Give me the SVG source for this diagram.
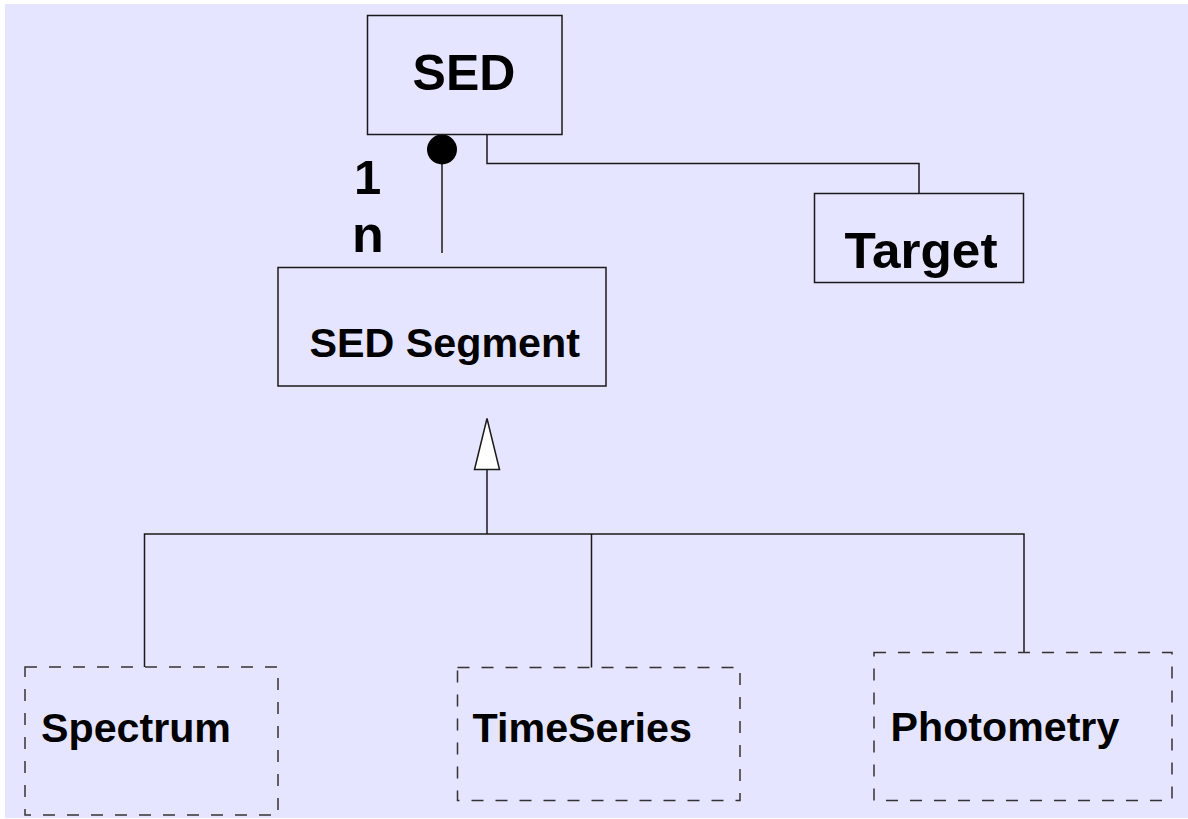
<svg xmlns="http://www.w3.org/2000/svg" width="1188" height="819" viewBox="0 0 1188 819">
  <style>
    .box { fill: none; stroke: #1a1a1a; stroke-width: 1.5; }
    .dashed { fill: none; stroke: #333333; stroke-width: 1.5; stroke-dasharray: 12 12; }
    .link { fill: none; stroke: #1a1a1a; stroke-width: 1.5; }
    .label { font-family: "Liberation Sans", Arial, sans-serif; font-weight: bold; fill: #000000; }
  </style>

  <!-- page background -->
  <rect x="0" y="0" width="1188" height="819" fill="#ffffff"/>
  <rect x="5" y="4" width="1183" height="814" fill="#e5e5ff"/>

  <!-- connectors -->
  <g id="connectors">
    <!-- SED to SED Segment: composition, 1 to n -->
    <line class="link" x1="442" y1="164" x2="442" y2="253"/>
    <circle cx="442" cy="149.5" r="15" fill="#000000"/>
    <!-- SED to Target -->
    <polyline class="link" points="487,134.5 487,163.5 919,163.5 919,193.5"/>
    <!-- generalisation tree -->
    <line class="link" x1="487" y1="469.5" x2="487" y2="534"/>
    <polygon points="487,418.5 474.5,469.5 499.5,469.5" fill="#ffffff" stroke="#1a1a1a" stroke-width="1.5"/>
    <polyline class="link" points="144.5,667 144.5,534 1024,534 1024,652.5"/>
    <line class="link" x1="591.5" y1="534" x2="591.5" y2="667.5"/>
    <!-- multiplicities -->
    <text class="label" x="354" y="194" font-size="49">1</text>
    <text class="label" x="352" y="252" font-size="52">n</text>
  </g>

  <g id="sed">
    <rect class="box" x="367.5" y="15.5" width="194.5" height="119"/>
    <text class="label" x="464" y="90" font-size="50" text-anchor="middle">SED</text>
  </g>

  <g id="target">
    <rect class="box" x="814.5" y="193.5" width="209" height="89"/>
    <text class="label" x="844.5" y="268.3" font-size="50" textLength="153" lengthAdjust="spacingAndGlyphs">Target</text>
  </g>

  <g id="sed-segment">
    <rect class="box" x="278" y="267.5" width="328" height="118.5"/>
    <text class="label" x="309.5" y="356.7" font-size="40.5" textLength="270.5" lengthAdjust="spacingAndGlyphs">SED Segment</text>
  </g>

  <g id="spectrum">
    <rect class="dashed" x="25" y="667" width="253" height="148"/>
    <text class="label" x="41" y="741.7" font-size="41" textLength="190" lengthAdjust="spacingAndGlyphs">Spectrum</text>
  </g>

  <g id="timeseries">
    <rect class="dashed" x="457.5" y="667.5" width="282.5" height="133"/>
    <text class="label" x="472.6" y="741.7" font-size="41" textLength="219.3" lengthAdjust="spacingAndGlyphs">TimeSeries</text>
  </g>

  <g id="photometry">
    <rect class="dashed" x="874" y="652.5" width="298" height="148"/>
    <text class="label" x="890.6" y="740.7" font-size="41" textLength="228.7" lengthAdjust="spacingAndGlyphs">Photometry</text>
  </g>
</svg>
